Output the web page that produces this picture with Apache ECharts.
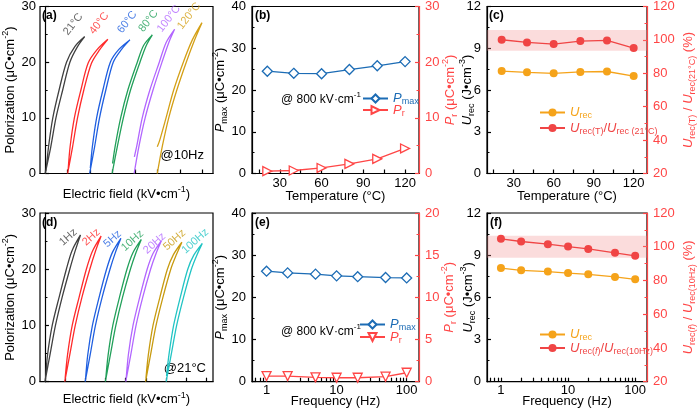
<!DOCTYPE html>
<html>
<head>
<meta charset="utf-8">
<script src="https://cdn.jsdelivr.net/npm/echarts@6/dist/echarts.min.js"></script>
<style>
  html, body { margin: 0; padding: 0; background: #fff; }
  #main { width: 698px; height: 410px; }
</style>
</head>
<body>
<div id="main"></div>
<script>
// (a) P-E loops at 10 Hz, x in loop-offset units (one tick per loop)
var tempNames = ['21°C', '40°C', '60°C', '80°C', '100°C', '120°C'];
var loopT21 = [[0, 0], [0.25, 4.8], [0.48, 10], [0.78, 15], [1.10, 20], [1.44, 22.8], [1.76, 24.6], [1.32, 22.8], [0.95, 20], [0.62, 15], [0.34, 10], [0.15, 4.8], [0.04, 0.5]];
var loopT40 = [[1.0, 0], [1.22, 4.8], [1.44, 10], [1.72, 15], [2.06, 19.8], [2.42, 22.2], [2.79, 24.1], [2.30, 22.2], [1.91, 19.8], [1.59, 15], [1.30, 10], [1.11, 4.8], [1.02, 0.5]];
var loopT60 = [[1.98, 0], [2.20, 4.8], [2.42, 10], [2.70, 15], [3.03, 20], [3.40, 22.3], [3.77, 24.0], [3.28, 22.3], [2.90, 20], [2.57, 15], [2.29, 10], [2.10, 4.8], [2.01, 1.0]];
var loopT80 = [[2.98, 0], [3.22, 5], [3.48, 10], [3.80, 15], [4.22, 20], [4.50, 23], [4.77, 24.9], [4.38, 23], [4.10, 20], [3.68, 15], [3.36, 10], [3.12, 5], [3.00, 1.8]];
var loopT100 = [[3.96, 0], [4.18, 5], [4.45, 10], [4.80, 15], [5.20, 20], [5.50, 23.5], [5.76, 25.9], [5.38, 23.5], [5.08, 20], [4.66, 15], [4.32, 10], [4.08, 5], [3.97, 3.0]];
var loopT120 = [[4.99, 0], [5.22, 5], [5.50, 10], [5.86, 15], [6.28, 20], [6.65, 24], [6.98, 27.1], [6.55, 24], [6.15, 20], [5.72, 15], [5.38, 10], [5.10, 6], [4.99, 4.8]];
var tempLoops = [loopT21, loopT40, loopT60, loopT80, loopT100, loopT120];
var tempLabelAt = [[1.25, 26.8], [2.40, 27.0], [3.65, 27.2], [4.60, 27.4], [5.50, 27.8], [6.40, 28.3]];
var tempTicksA = [0, 1, 2, 3, 4, 5, 6, 7];

// (d) P-E loops at 21 °C
var freqNames = ['1Hz', '2Hz', '5Hz', '10Hz', '20Hz', '50Hz', '100Hz'];
var loopF1 = [[0, 0], [0.25, 4.8], [0.52, 10], [0.85, 15], [1.23, 20], [1.50, 23.3], [1.76, 26.1], [1.34, 23.3], [1.06, 20], [0.70, 15], [0.36, 10], [0.13, 4.8], [0.03, 0.6]];
var loopF2 = [[0.98, 0], [1.23, 4.8], [1.50, 10], [1.83, 15], [2.22, 20], [2.50, 23.2], [2.78, 25.9], [2.35, 23.2], [2.05, 20], [1.69, 15], [1.35, 10], [1.12, 4.8], [1.00, 0.6]];
var loopF5 = [[1.99, 0], [2.24, 4.8], [2.50, 10], [2.83, 15], [3.22, 20], [3.49, 23], [3.76, 25.5], [3.34, 23], [3.05, 20], [2.68, 15], [2.35, 10], [2.12, 4.8], [2.01, 0.5]];
var loopF10 = [[2.99, 0], [3.24, 4.8], [3.51, 10], [3.84, 15], [4.23, 20], [4.50, 22.9], [4.77, 25.3], [4.35, 22.9], [4.06, 20], [3.69, 15], [3.36, 10], [3.13, 4.8], [3.01, 0.5]];
var loopF20 = [[4.0, 0], [4.25, 4.8], [4.51, 10], [4.84, 15], [5.23, 20], [5.50, 22.8], [5.77, 25.1], [5.35, 22.8], [5.06, 20], [4.69, 15], [4.36, 10], [4.13, 4.8], [4.02, 0.5]];
var loopF50 = [[4.98, 0], [5.23, 4.8], [5.50, 10], [5.84, 15], [6.23, 20], [6.51, 22.6], [6.78, 24.8], [6.36, 22.6], [6.06, 20], [5.69, 15], [5.35, 10], [5.12, 4.8], [5.00, 0.6]];
var loopF100 = [[6.0, 0], [6.25, 4.8], [6.52, 10], [6.86, 15], [7.25, 20], [7.52, 22.5], [7.79, 24.6], [7.37, 22.5], [7.07, 20], [6.70, 15], [6.37, 10], [6.14, 4.8], [6.02, 1.0]];
var freqLoops = [loopF1, loopF2, loopF5, loopF10, loopF20, loopF50, loopF100];
var freqLabelAt = [[1.15, 25.7], [2.29, 25.7], [3.35, 25.4], [4.33, 25.1], [5.43, 24.6], [6.41, 25.2], [7.44, 25.0]];
var freqTicksD = [0, 1, 2, 3, 4, 5, 6, 7, 8];

// (b)/(c) temperature dependence
var temps = [21, 40, 60, 80, 100, 120];
var pmaxT = [24.5, 24.0, 23.9, 24.9, 25.8, 26.8];
var prT = [0.42, 0.54, 1.0, 1.73, 2.63, 4.5];
var urecT = [7.36, 7.27, 7.2, 7.3, 7.33, 7.0];
var ratioT = [100.1, 98.5, 97.5, 99.3, 99.7, 95.1];
var bandT = [93.5, 106];
var tempTicks = [15, 30, 45, 60, 75, 90, 105, 120];
var tempTickLabels = [30, 60, 90, 120];

// (e)/(f) frequency dependence
var freqs = [1, 2, 5, 10, 20, 50, 100];
var pmaxF = [26.2, 25.8, 25.5, 25.1, 24.9, 24.7, 24.6];
var prF = [0.67, 0.67, 0.51, 0.47, 0.47, 0.59, 1.06];
var urecF = [8.08, 7.92, 7.83, 7.73, 7.64, 7.45, 7.28];
var ratioF = [104.7, 103.1, 101.5, 100.1, 98.7, 96.4, 94.6];
var bandF = [93.5, 106.5];
var freqTicks = [0.7, 0.8, 0.9, 1, 2, 3, 4, 5, 6, 7, 8, 9, 10, 20, 30, 40, 50, 60, 70, 80, 90, 100];
var freqTickLabels = [1, 10, 100];

var FONT = '"Liberation Sans", Arial, sans-serif';
var RED = '#ff4646';
var BLUE = '#1c6cb5';
var ORANGE = '#f5a31a';
var RRED = '#f04545';
var tempColors = ['#404040', '#ff2a2a', '#1f5fe0', '#22a05a', '#b266ff', '#d4a017'];
var freqColors = ['#404040', '#ff2a2a', '#1f5fe0', '#22a05a', '#b266ff', '#c89b10', '#22c4c4'];

var rich = {
  n: { fontFamily: FONT, fontSize: 13, lineHeight: 18 },
  i: { fontFamily: FONT, fontSize: 13, lineHeight: 18, fontStyle: 'italic' },
  sub: { fontFamily: FONT, fontSize: 9, lineHeight: 10, verticalAlign: 'bottom' },
  isub: { fontFamily: FONT, fontSize: 9, lineHeight: 10, verticalAlign: 'bottom', fontStyle: 'italic' },
  sup: { fontFamily: FONT, fontSize: 9, lineHeight: 10, verticalAlign: 'top' },
  s: { fontFamily: FONT, fontSize: 12, lineHeight: 18 },
  ssup: { fontFamily: FONT, fontSize: 8, lineHeight: 10, verticalAlign: 'top' }
};
var legendRich = {
  n: { fontFamily: FONT, fontSize: 13, lineHeight: 16 },
  i: { fontFamily: FONT, fontSize: 13, lineHeight: 16, fontStyle: 'italic' },
  sub: { fontFamily: FONT, fontSize: 9, lineHeight: 9, verticalAlign: 'bottom' },
  isub: { fontFamily: FONT, fontSize: 9, lineHeight: 9, verticalAlign: 'bottom', fontStyle: 'italic' }
};

var grids = [
  { left: 38.5, top: 6.5, width: 174.5, height: 167 },
  { left: 252, top: 6.5, width: 167, height: 167 },
  { left: 487, top: 6.5, width: 165.5, height: 167 },
  { left: 38.5, top: 213, width: 174.5, height: 168.7 },
  { left: 252, top: 213, width: 167, height: 168.7 },
  { left: 487, top: 213, width: 165.5, height: 168.7 }
].map(function (g) {
  g.show = true;
  g.borderColor = '#000';
  g.borderWidth = 1.2;
  g.backgroundColor = 'transparent';
  return g;
});

function xAx(grid, o) {
  return {
    gridIndex: grid, type: o.type || 'value', logBase: 10, min: o.min, max: o.max,
    name: o.name, nameLocation: 'middle', nameGap: o.nameGap, nameMoveOverlap: false,
    nameTextStyle: { color: '#000', fontFamily: FONT, fontSize: 13, rich: rich },
    axisLine: { lineStyle: { color: '#000', width: 1.2 } },
    axisTick: { inside: true, length: 4, customValues: o.ticks, lineStyle: { color: '#000', width: 1.2 } },
    axisLabel: { show: !!o.labels, customValues: o.labels, color: '#000', fontFamily: FONT, fontSize: 13, margin: o.margin || 3 },
    splitLine: { show: false }
  };
}

function yAx(grid, o) {
  var c = o.color || '#000';
  return {
    gridIndex: grid, type: 'value', position: o.right ? 'right' : 'left',
    min: o.min, max: o.max, interval: o.interval,
    name: o.name, nameLocation: 'middle', nameGap: o.nameGap, nameRotate: 90, nameMoveOverlap: false,
    nameTextStyle: { color: c, fontFamily: FONT, fontSize: 13, rich: rich },
    axisLine: { show: true, lineStyle: { color: c, width: 1.2 } },
    axisTick: { inside: true, length: 4, lineStyle: { color: c, width: 1.2 } },
    minorTick: { show: true, splitNumber: 2, length: 2.5, lineStyle: { color: c, width: 1 } },
    axisLabel: { color: c, fontFamily: FONT, fontSize: 13, margin: o.margin || 6 },
    splitLine: { show: false }
  };
}

var xAxes = [
  xAx(0, { min: -0.23, max: 7.47, ticks: tempTicksA, name: '{n|Electric field (kV•cm}{sup|-1}{n|)}', nameGap: 12 }),
  xAx(1, { min: 10, max: 130, ticks: tempTicks, labels: tempTickLabels, name: '{n|Temperature (°C)}', nameGap: 14 }),
  xAx(2, { min: 10, max: 130, ticks: tempTicks, labels: tempTickLabels, name: '{n|Temperature (°C)}', nameGap: 14 }),
  xAx(3, { min: -0.245, max: 8.32, ticks: freqTicksD, name: '{n|Electric field (kV•cm}{sup|-1}{n|)}', nameGap: 9 }),
  xAx(4, { type: 'log', min: 0.62, max: 150, ticks: freqTicks, labels: freqTickLabels, name: '{n|Frequency (Hz)}', nameGap: 11, margin: 2 }),
  xAx(5, { type: 'log', min: 0.62, max: 150, ticks: freqTicks, labels: freqTickLabels, name: '{n|Frequency (Hz)}', nameGap: 11, margin: 2 })
];

var yAxes = [
  yAx(0, { min: 0, max: 30, interval: 10, margin: 4, nameGap: 21, name: '{n|Polorization (μC•cm}{sup|-2}{n|)}' }),
  yAx(1, { min: 0, max: 40, interval: 10, nameGap: 23, name: '{i|P}{sub|max}{n| (μC•cm}{sup|-2}{n|)}' }),
  yAx(1, { right: true, color: RED, min: 0, max: 30, interval: 10, nameGap: 22, name: '{i|P}{sub|r}{n| (μC•cm}{sup|-2}{n|)}' }),
  yAx(2, { min: 0, max: 12, interval: 3, nameGap: 11, name: '{i|U}{sub|rec}{n| (J•cm}{sup|-3}{n|)}' }),
  yAx(2, { right: true, color: RED, min: 20, max: 120, interval: 20, nameGap: 32, name: '{i|U}{sub|rec(T)}{n| / }{i|U}{sub|rec(21°C)}{n| (%)}' }),
  yAx(3, { min: 0, max: 30, interval: 10, margin: 4, nameGap: 21, name: '{n|Polorization (μC•cm}{sup|-2}{n|)}' }),
  yAx(4, { min: 0, max: 40, interval: 10, nameGap: 23, name: '{i|P}{sub|max}{n| (μC•cm}{sup|-2}{n|)}' }),
  yAx(4, { right: true, color: RED, min: 0, max: 20, interval: 5, nameGap: 21, name: '{i|P}{sub|r}{n| (μC•cm}{sup|-2}{n|)}' }),
  yAx(5, { min: 0, max: 12, interval: 3, nameGap: 10, name: '{i|U}{sub|rec}{n| (J•cm}{sup|-3}{n|)}' }),
  yAx(5, { right: true, color: RED, min: 20, max: 120, interval: 20, nameGap: 32, name: '{i|U}{sub|rec(}{isub|f}{sub|)}{n| / }{i|U}{sub|rec(10Hz)}{n| (%)}' })
];

var series = [];

function addLoops(loops, names, colors, labelAt, axis, rot) {
  loops.forEach(function (loop, i) {
    series.push({
      type: 'line', xAxisIndex: axis, yAxisIndex: axis === 0 ? 0 : 5, data: loop,
      smooth: 0.3, symbol: 'none', silent: true,
      lineStyle: { color: colors[i], width: 1.3 }
    });
  });
  series.push({
    type: 'scatter', xAxisIndex: axis, yAxisIndex: axis === 0 ? 0 : 5, silent: true,
    symbolSize: 1, itemStyle: { color: 'rgba(0,0,0,0)' },
    label: { show: true, position: 'inside', formatter: '{b}', rotate: rot, fontSize: 11, fontFamily: FONT },
    data: labelAt.map(function (p, i) {
      return { value: p, name: names[i], label: { color: colors[i] } };
    })
  });
}
addLoops(tempLoops, tempNames, tempColors, tempLabelAt, 0, 52);
addLoops(freqLoops, freqNames, freqColors, freqLabelAt, 3, 42);

function pairs(xs, ys) {
  return xs.map(function (x, i) { return [x, ys[i]]; });
}

// (b)
series.push({
  name: 'PmaxT', type: 'line', xAxisIndex: 1, yAxisIndex: 1, data: pairs(temps, pmaxT),
  symbol: 'diamond', symbolSize: 10, lineStyle: { color: BLUE, width: 1.3 },
  itemStyle: { color: '#fff', borderColor: BLUE, borderWidth: 1.3 }
});
series.push({
  name: 'PrT', type: 'line', xAxisIndex: 1, yAxisIndex: 2, data: pairs(temps, prT),
  symbol: 'triangle', symbolRotate: -90, symbolSize: 9, lineStyle: { color: RED, width: 1.3 },
  itemStyle: { color: '#fff', borderColor: RED, borderWidth: 1.3 }
});
// (c)
series.push({
  name: 'UrecT', type: 'line', xAxisIndex: 2, yAxisIndex: 3, data: pairs(temps, urecT),
  symbol: 'circle', symbolSize: 8, lineStyle: { color: ORANGE, width: 1.3 }, itemStyle: { color: ORANGE }
});
series.push({
  name: 'RatioT', type: 'line', xAxisIndex: 2, yAxisIndex: 4, data: pairs(temps, ratioT),
  symbol: 'circle', symbolSize: 8, lineStyle: { color: RRED, width: 1.3 }, itemStyle: { color: RRED },
  markArea: { silent: true, itemStyle: { color: 'rgba(242,140,140,0.3)' }, data: [[{ yAxis: bandT[0] }, { yAxis: bandT[1] }]] }
});
// (e)
series.push({
  name: 'PmaxF', type: 'line', xAxisIndex: 4, yAxisIndex: 6, data: pairs(freqs, pmaxF),
  symbol: 'diamond', symbolSize: 10, lineStyle: { color: BLUE, width: 1.3 },
  itemStyle: { color: '#fff', borderColor: BLUE, borderWidth: 1.3 }
});
series.push({
  name: 'PrF', type: 'line', xAxisIndex: 4, yAxisIndex: 7, data: pairs(freqs, prF),
  symbol: 'triangle', symbolRotate: 180, symbolSize: 9, lineStyle: { color: RED, width: 1.3 },
  itemStyle: { color: '#fff', borderColor: RED, borderWidth: 1.3 }
});
// (f)
series.push({
  name: 'UrecF', type: 'line', xAxisIndex: 5, yAxisIndex: 8, data: pairs(freqs, urecF),
  symbol: 'circle', symbolSize: 8, lineStyle: { color: ORANGE, width: 1.3 }, itemStyle: { color: ORANGE }
});
series.push({
  name: 'RatioF', type: 'line', xAxisIndex: 5, yAxisIndex: 9, data: pairs(freqs, ratioF),
  symbol: 'circle', symbolSize: 8, lineStyle: { color: RRED, width: 1.3 }, itemStyle: { color: RRED },
  markArea: { silent: true, itemStyle: { color: 'rgba(242,140,140,0.3)' }, data: [[{ yAxis: bandF[0] }, { yAxis: bandF[1] }]] }
});

var legendText = {
  PmaxT: '{i|P}{sub|max}', PrT: '{i|P}{sub|r}',
  PmaxF: '{i|P}{sub|max}', PrF: '{i|P}{sub|r}',
  UrecT: '{i|U}{sub|rec}', RatioT: '{i|U}{sub|rec(T)}{n|/}{i|U}{sub|rec (21°C)}',
  UrecF: '{i|U}{sub|rec}', RatioF: '{i|U}{sub|rec(}{isub|f}{sub|)}{n|/}{i|U}{sub|rec(10Hz)}'
};
function legendOf(left, top, gap, a, ca, b, cb) {
  return {
    left: left, top: top, orient: 'vertical', itemWidth: 25, itemHeight: 10, itemGap: gap,
    selectedMode: false,
    formatter: function (name) { return legendText[name]; },
    textStyle: { fontFamily: FONT, fontSize: 13, rich: legendRich },
    data: [{ name: a, textStyle: { color: ca } }, { name: b, textStyle: { color: cb } }]
  };
}

function txt(x, y, text, align, extra) {
  return {
    type: 'text', x: x, y: y, silent: true,
    style: Object.assign({ text: text, fill: '#000', font: '13px ' + FONT, align: align || 'left', verticalAlign: 'middle', rich: rich }, extra || {})
  };
}
var bold = { font: 'bold 12px ' + FONT };

var chart = echarts.init(document.getElementById('main'));
chart.setOption({
  animation: false,
  textStyle: { fontFamily: FONT },
  grid: grids,
  xAxis: xAxes,
  yAxis: yAxes,
  legend: [
    legendOf(357, 87, -3, 'PmaxT', BLUE, 'PrT', RED),
    legendOf(534, 101, 1, 'UrecT', ORANGE, 'RatioT', RRED),
    legendOf(354, 313, -2, 'PmaxF', BLUE, 'PrF', RED),
    legendOf(534, 323, -1, 'UrecF', ORANGE, 'RatioF', RRED)
  ],
  graphic: [
    txt(42, 16, '(a)', 'left', bold),
    txt(255, 16, '(b)', 'left', bold),
    txt(489, 16, '(c)', 'left', bold),
    txt(42, 223, '(d)', 'left', bold),
    txt(255, 223, '(e)', 'left', bold),
    txt(490, 223, '(f)', 'left', bold),
    txt(204, 155, '@10Hz', 'right'),
    txt(206, 368, '@21°C', 'right'),
    txt(281, 100, '{s|@ 800 kV·cm}{ssup|-1}'),
    txt(281, 332, '{s|@ 800 kV·cm}{ssup|-1}')
  ],
  series: series
});
</script>
</body>
</html>
